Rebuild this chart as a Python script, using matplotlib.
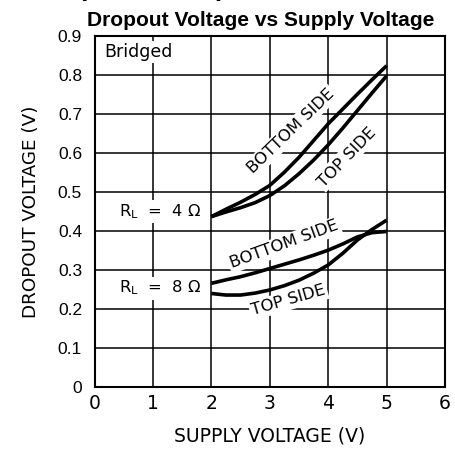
import matplotlib.pyplot as plt
import numpy as np

# supply voltage points (V)
vs = [2.0, 2.25, 2.5, 2.75, 3.0, 3.25, 3.5, 3.75, 4.0, 4.25, 4.5, 4.75, 5.0]

# dropout voltage (V)
rl4_bottom = [0.437, 0.456, 0.474, 0.494, 0.517, 0.551, 0.589, 0.632, 0.675, 0.713, 0.751, 0.788, 0.824]
rl4_top    = [0.437, 0.449, 0.460, 0.473, 0.491, 0.516, 0.547, 0.582, 0.621, 0.664, 0.709, 0.754, 0.798]
rl8_bottom = [0.266, 0.275, 0.283, 0.293, 0.304, 0.315, 0.326, 0.338, 0.351, 0.367, 0.385, 0.396, 0.399]
rl8_top    = [0.240, 0.236, 0.236, 0.241, 0.249, 0.260, 0.274, 0.292, 0.313, 0.343, 0.377, 0.404, 0.428]

xticks = [0, 1, 2, 3, 4, 5, 6]
yticks = [0, 0.1, 0.2, 0.3, 0.4, 0.5, 0.6, 0.7, 0.8, 0.9]
ylabels = ['0', '0.1', '0.2', '0.3', '0.4', '0.5', '0.6', '0.7', '0.8', '0.9']

narrow = ['Liberation Sans Narrow', 'DejaVu Sans']
arial = 'Liberation Sans'

fig = plt.figure(figsize=(4.55, 4.63), dpi=100)
ax = fig.add_axes([0.2077, 0.164, 0.7703, 0.758])

ax.set_xlim(0, 6)
ax.set_ylim(0, 0.9)
ax.set_xticks(xticks)
ax.set_yticks(yticks)
ax.set_xticklabels([str(t) for t in xticks], family=narrow, fontsize=13.5)
ax.set_yticklabels(ylabels, family=arial, fontsize=12.5)
ax.tick_params(axis='x', length=0, pad=5)
ax.tick_params(axis='y', length=0, pad=9)
ax.grid(True, color='black', linewidth=1.1, zorder=1)
ax.set_axisbelow(True)
for sp in ax.spines.values():
    sp.set_linewidth(1.5)

for ys in (rl4_bottom, rl4_top, rl8_bottom, rl8_top):
    ax.plot(vs, ys, color='black', linewidth=2.6, solid_capstyle='butt', zorder=4)

box = dict(facecolor='white', edgecolor='none', pad=1.5)
lab = dict(family=narrow, fontsize=11.8, ha='center', va='center', zorder=3, bbox=box)

ax.text(0.16, 0.859, 'Bridged', family=narrow, fontsize=12.5, ha='left', va='center', zorder=3, bbox=box)
ax.text(1.12, 0.45, r'R$_\mathregular{L}$  =  4 $\Omega$', **lab)
ax.text(1.12, 0.254, r'R$_\mathregular{L}$  =  8 $\Omega$', **lab)
ax.text(3.36, 0.656, 'BOTTOM SIDE', rotation=44, **lab)
ax.text(4.32, 0.59, 'TOP SIDE', rotation=46, **lab)
ax.text(3.25, 0.365, 'BOTTOM SIDE', rotation=20, **lab)
ax.text(3.32, 0.222, 'TOP SIDE', rotation=16, **lab)

ax.set_xlabel('SUPPLY VOLTAGE (V)', family=narrow, fontsize=13.5, labelpad=10)
ax.set_ylabel('DROPOUT VOLTAGE (V)', family=narrow, fontsize=13.2, labelpad=13)

fig.text(0.574, 0.944, 'Dropout Voltage vs Supply Voltage', family=arial,
         fontweight='bold', fontsize=15.1, ha='center', va='baseline')
fig.text(0.17, 1.008, '(Continued)', family=arial, fontweight='bold',
         fontsize=19, ha='left', va='baseline')

fig.savefig('out.png', dpi=100)
